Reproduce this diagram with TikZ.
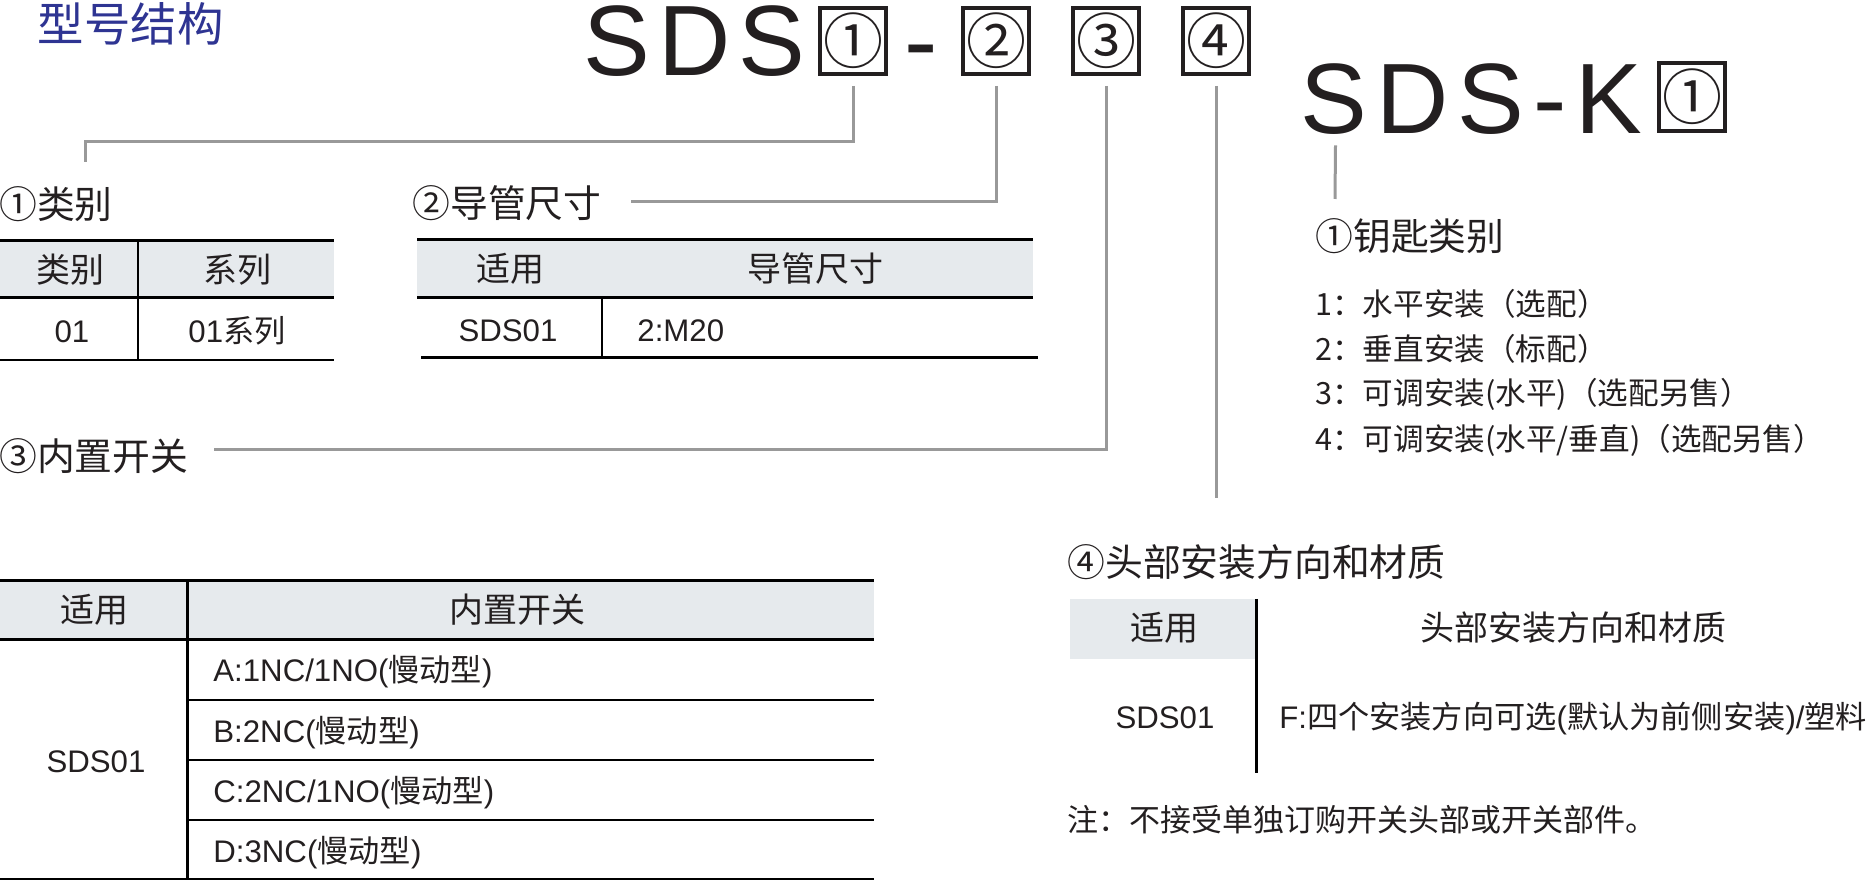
\documentclass[tikz,border=0pt]{standalone}
\usepackage{fontspec}
\usepackage{xcolor}
\usepackage{tikz}
\usetikzlibrary{positioning, calc}
\setmainfont{Liberation Sans}
\newfontfamily\cjk{Noto Sans CJK SC}
\definecolor{inkdark}{RGB}{35,31,32}
\definecolor{linegray}{RGB}{153,153,153}
\definecolor{headgray}{RGB}{230,234,237}
\definecolor{titleblue}{RGB}{46,52,146}
\newcommand{\fsTitle}{\fontsize{23.2}{27}\selectfont}
\newcommand{\fsBig}{\fontsize{50}{56}\selectfont}
\newcommand{\fsSec}{\fontsize{18.9}{22}\selectfont}
\newcommand{\fsTab}{\fontsize{15.6}{18}\selectfont}
\newcommand{\fsHead}{\fontsize{17}{20}\selectfont}
\newcommand{\fsList}{\fontsize{15.3}{18}\selectfont}
\tikzset{
    txt/.style={inner sep=0pt, text=inkdark},
    codebox/.style={draw=inkdark, line width=2pt, minimum width=33pt, minimum height=33pt,
                    inner sep=0pt, text=inkdark, font=\cjk\fontsize{30}{30}\selectfont},
    conn/.style={draw=linegray, line width=1.5pt},
    thickrule/.style={draw=black, line width=1.5pt},
    thinrule/.style={draw=black, line width=0.75pt},
    colrule/.style={draw=black, line width=1.2pt},
    sec/.style={txt, anchor=base west, font=\cjk\fsSec},
    opt/.style={txt, anchor=base west, font=\cjk\fsList},
    head/.style={txt, anchor=base, font=\cjk\fsHead},
    cell/.style={txt, anchor=base, font=\fsTab},
    lcell/.style={txt, anchor=base west, font=\fsTab}
}

\begin{document}
\begin{tikzpicture}[x=0.5pt, y=-0.5pt]
    \useasboundingbox (0,0) rectangle (1869,881);

    % Title
    \node[txt, anchor=base west, font=\cjk\fsTitle, text=titleblue] (title) at (37.5,42) {型号结构};

    % Code
    \node[txt, anchor=base west, font=\fsBig] (sds) at (583.5,76) {S\kern4pt D\kern4pt S};
    \node[codebox] (b1) at (853,41) {①};
    \node[txt, anchor=base west, font=\fsBig] (dash) at (904.5,76) {-};
    \node[codebox] (b2) at (996,41) {②};
    \node[codebox] (b3) at (1106,41) {③};
    \node[codebox] (b4) at (1216,41) {④};

    \node[txt, anchor=base west, font=\fsBig] (sdsk) at (1300.5,134) {S\kern4.5pt D\kern4.5pt S\kern4.5pt -\kern4.5pt K};
    \node[codebox, minimum height=34pt] (bk) at (1692,97) {①};

    % Connector ends
    \coordinate (end1a) at (85,142);
    \coordinate (end1) at (85,162);
    \coordinate (end2) at (631,202);
    \coordinate (end3) at (214,450);
    \coordinate (end4) at (1216,498);
    \coordinate (endk) at (1335,199);

    % Connectors
    \draw[conn] ([yshift=-5pt]b1.south) |- (end1a) -- (end1);
    \draw[conn] ([yshift=-5pt]b2.south) |- (end2);
    \draw[conn] ([yshift=-5pt]b3.south) |- (end3);
    \draw[conn] ([yshift=-5pt]b4.south) -- (end4);
    \draw[conn] ([xshift=17.5pt, yshift=-5pt]sdsk.south west) -- (endk);

    % Section labels
    \node[sec] (lab1) at (-1,219) {①类别};
    \node[sec] (lab2) at (412,218) {②导管尺寸};
    \node[sec] (lab3) at (-1,471) {③内置开关};
    \node[sec] (lab4) at (1067,577) {④头部安装方向和材质};
    \node[sec] (labk) at (1315,251) {①钥匙类别};

    % Key options
    \node[opt] (opt1) at (1315,316) {1：水平安装（选配）};
    \node[opt] (opt2) at (1315,361) {2：垂直安装（标配）};
    \node[opt] (opt3) at (1315,405) {3：可调安装(水平)（选配另售）};
    \node[opt] (opt4) at (1315,451) {4：可调安装(水平/垂直)（选配另售）};

    % Table 1
    \fill[headgray] (0,241) rectangle (334,298);
    \draw[thickrule] (0,241) -- (334,241);
    \draw[thickrule] (0,298) -- (334,298);
    \draw[thinrule] (0,360) -- (334,360);
    \draw[colrule] (138,241) -- (138,360);
    \node[head] (t1a) at (70,283) {类别};
    \node[head] (t1b) at (237,283) {系列};
    \node[cell] (t1c) at (72,343) {01};
    \node[cell] (t1d) at (237,343) {01{\cjk 系列}};

    % Table 2
    \fill[headgray] (417,240) rectangle (1033,298);
    \draw[thickrule] (417,240) -- (1033,240);
    \draw[thickrule] (417,298) -- (1033,298);
    \draw[thickrule] (421,358) -- (1038,358);
    \draw[colrule] (602,298) -- (602,358);
    \node[head] (t2a) at (510,282) {适用};
    \node[head] (t2b) at (815,282) {导管尺寸};
    \node[cell] (t2c) at (508,342) {SDS01};
    \node[lcell] (t2d) at (637,342) {2:M20};

    % Table 3
    \fill[headgray] (0,581) rectangle (874,640);
    \draw[thickrule] (0,581) -- (874,581);
    \draw[thickrule] (0,640) -- (874,640);
    \foreach \y in {700,760,820}
        \draw[thinrule] (187,\y) -- (874,\y);
    \draw[thinrule] (0,879) -- (874,879);
    \draw[thickrule] (187,581) -- (187,879);
    \node[head] (t3a) at (95,623) {适用};
    \node[head] (t3b) at (517,623) {内置开关};
    \node[cell] (t3c) at (96,772) {SDS01};
    \node[lcell] (t3d) at (213,682) {A:1NC/1NO({\cjk 慢动型})};
    \node[lcell] (t3e) at (213,742) {B:2NC({\cjk 慢动型})};
    \node[lcell] (t3f) at (213,802) {C:2NC/1NO({\cjk 慢动型})};
    \node[lcell] (t3g) at (213,862) {D:3NC({\cjk 慢动型})};

    % Table 4
    \fill[headgray] (1070,599) rectangle (1255,659);
    \draw[thickrule] (1256,599) -- (1256,773);
    \node[head] (t4a) at (1164,640) {适用};
    \node[head] (t4b) at (1573,640) {头部安装方向和材质};
    \node[cell] (t4c) at (1165,728) {SDS01};
    \node[lcell] (t4d) at (1279,728) {F:{\cjk 四个安装方向可选}({\cjk 默认为前侧安装})/{\cjk 塑料}};

    % Note
    \node[txt, anchor=base west, font=\cjk\fontsize{15.5}{18}\selectfont] (note) at (1067,831) {注：不接受单独订购开关头部或开关部件。};
\end{tikzpicture}
\end{document}
